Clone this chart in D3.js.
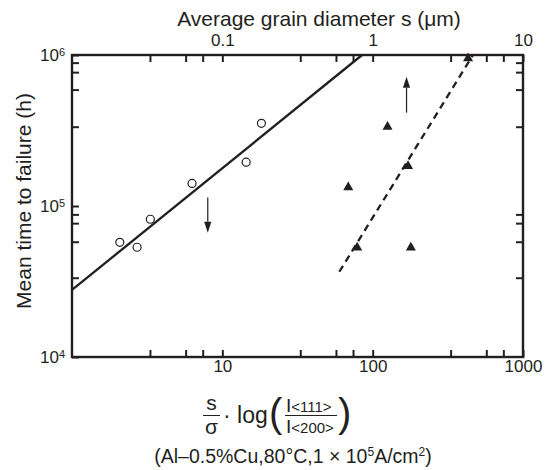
<!DOCTYPE html>
<html>
<head>
<meta charset="utf-8">
<script src="https://cdn.jsdelivr.net/npm/d3@7"></script>
<style>
    body { margin: 0; background: #fff; }
    svg text { font-family: "Liberation Sans", Arial, Helvetica, sans-serif; fill: #231f20; }
    .axis path { display: none; }
    .axis line { stroke: #231f20; stroke-width: 2; }
</style>
</head>
<body>
<div id="chart"></div>
<script>
// open circles
const circleX = [2.08, 2.71, 3.32, 6.29, 14.4, 18.2];
const circleY = [5.75e4, 5.33e4, 8.17e4, 1.41e5, 1.95e5, 3.53e5];

// filled triangles
const triX = [431, 125.6, 172, 68.8, 78.9, 179.5];
const triY = [9.5e5, 3.35e5, 1.84e5, 1.33e5, 5.3e4, 5.3e4];

// fitted lines (end points)
const solidX = [1, 85];
const solidY = [2.78e4, 1e6];
const dashX = [60, 465];
const dashY = [3.67e4, 1e6];

// arrows: x, from, to
const arrowX = [8.0, 168];
const arrowFrom = [1.14e5, 4.15e5];
const arrowTo = [6.66e4, 7.18e5];

// ticks
const xMajor = [10, 100, 1000];
const xMinor = [3.3, 5.7, 7.4, 33, 57, 74, 330, 570, 740];
const topMajor = [0.1, 1, 10];
const topMinor = [0.033, 0.057, 0.074, 0.33, 0.57, 0.74, 3.3, 5.7, 7.4];
const yMajor = [1e4, 1e5, 1e6];
const yExp = ["4", "5", "6"];
const yMinor = [3.35e4, 5.8e4, 7.7e4, 8.8e4, 3.35e5, 5.9e5, 7.7e5, 8.9e5];

const ink = "#231f20";

class GrainVis {
    constructor(parentElement) {
        this.parentElement = parentElement;
        this.initVis();
    }

    initVis() {
        let vis = this;

        vis.margin = {top: 55, right: 31, bottom: 113, left: 72};
        vis.width = 554 - vis.margin.left - vis.margin.right;
        vis.height = 470 - vis.margin.top - vis.margin.bottom;

        vis.root = d3.select("#" + vis.parentElement).append("svg")
            .attr("width", 554)
            .attr("height", 470);

        vis.svg = vis.root.append("g")
            .attr("transform", `translate(${vis.margin.left},${vis.margin.top})`);

        // scales
        vis.x = d3.scaleLog().domain([1, 1000]).range([0, vis.width]);
        vis.xTop = d3.scaleLog().domain([0.01, 10]).range([0, vis.width]);
        vis.y = d3.scaleLog().domain([1e4, 1e6]).range([vis.height, 0]);

        // axes, ticks pointing inward
        vis.svg.append("g")
            .attr("class", "axis x-axis")
            .attr("transform", `translate(0,${vis.height})`)
            .call(d3.axisBottom(vis.x)
                .tickValues(xMinor.concat(xMajor))
                .tickSize(-7)
                .tickPadding(3)
                .tickFormat(d => xMajor.includes(d) ? d3.format("d")(d) : ""))
            .selectAll("text").style("font-size", "17px");

        vis.svg.append("g")
            .attr("class", "axis top-axis")
            .call(d3.axisTop(vis.xTop)
                .tickValues(topMinor.concat(topMajor))
                .tickSize(-7)
                .tickPadding(9)
                .tickFormat(d => topMajor.includes(d) ? String(d) : ""))
            .selectAll("text").style("font-size", "17px");

        let left = vis.svg.append("g")
            .attr("class", "axis y-axis")
            .call(d3.axisLeft(vis.y)
                .tickValues(yMinor.concat(yMajor))
                .tickSize(-7)
                .tickPadding(7)
                .tickFormat(d => yMajor.includes(d) ? "10" : ""));

        left.selectAll("text")
            .style("font-size", "17px")
            .each(function(d) {
                let i = yMajor.indexOf(d);
                if (i < 0) return;
                let t = d3.select(this).text("");
                t.append("tspan").text("10");
                t.append("tspan").attr("dy", "-0.45em").style("font-size", "11px").text(yExp[i]);
            });

        vis.svg.append("g")
            .attr("class", "axis y-axis-right")
            .attr("transform", `translate(${vis.width},0)`)
            .call(d3.axisRight(vis.y)
                .tickValues(yMinor)
                .tickSize(-7)
                .tickFormat(""));

        // frame
        vis.svg.append("rect")
            .attr("width", vis.width)
            .attr("height", vis.height)
            .attr("fill", "none")
            .attr("stroke", ink)
            .attr("stroke-width", 2.4);

        // fitted lines
        vis.svg.append("line")
            .attr("x1", vis.x(solidX[0])).attr("y1", vis.y(solidY[0]))
            .attr("x2", vis.x(solidX[1])).attr("y2", vis.y(solidY[1]))
            .attr("stroke", ink)
            .attr("stroke-width", 2.3);

        vis.svg.append("line")
            .attr("x1", vis.x(dashX[0])).attr("y1", vis.y(dashY[0]))
            .attr("x2", vis.x(dashX[1])).attr("y2", vis.y(dashY[1]))
            .attr("stroke", ink)
            .attr("stroke-width", 2.3)
            .attr("stroke-dasharray", "7,5");

        // circles
        vis.svg.selectAll(".open-pt")
            .data(circleX)
            .enter()
            .append("circle")
            .attr("class", "open-pt")
            .attr("cx", d => vis.x(d))
            .attr("cy", (d, i) => vis.y(circleY[i]))
            .attr("r", 4)
            .attr("fill", "#fff")
            .attr("stroke", ink)
            .attr("stroke-width", 1.2);

        // triangles
        vis.svg.selectAll(".tri-pt")
            .data(triX)
            .enter()
            .append("path")
            .attr("class", "tri-pt")
            .attr("d", d3.symbol().type(d3.symbolTriangle).size(44))
            .attr("transform", (d, i) => `translate(${vis.x(d)},${vis.y(triY[i])})`)
            .attr("fill", ink);

        // arrows
        arrowX.forEach((ax, i) => {
            let px = vis.x(ax);
            let y0 = vis.y(arrowFrom[i]);
            let y1 = vis.y(arrowTo[i]);
            let dir = y1 > y0 ? 1 : -1;
            let headLen = 11;
            vis.svg.append("line")
                .attr("x1", px).attr("y1", y0)
                .attr("x2", px).attr("y2", y1 - dir * headLen)
                .attr("stroke", ink)
                .attr("stroke-width", 1.2);
            vis.svg.append("path")
                .attr("d", `M${px},${y1} L${px - 3.6},${y1 - dir * headLen} L${px + 3.6},${y1 - dir * headLen} Z`)
                .attr("fill", ink);
        });

        // titles
        vis.root.append("text")
            .attr("x", 319).attr("y", 26)
            .attr("text-anchor", "middle")
            .style("font-size", "21px")
            .text("Average grain diameter s (\u03bcm)");

        vis.root.append("text")
            .attr("transform", "translate(31,201)rotate(-90)")
            .attr("text-anchor", "middle")
            .style("font-size", "21px")
            .text("Mean time to failure (h)");

        vis.drawFormula();
    }

    drawFormula() {
        let vis = this;
        let f = vis.root.append("g").attr("class", "formula");

        // s / sigma
        f.append("text").attr("x", 211.5).attr("y", 410).attr("text-anchor", "middle")
            .style("font-size", "21px").text("s");
        f.append("line").attr("x1", 203).attr("x2", 220).attr("y1", 415.5).attr("y2", 415.5)
            .attr("stroke", ink).attr("stroke-width", 1);
        f.append("text").attr("x", 211.5).attr("y", 434).attr("text-anchor", "middle")
            .style("font-size", "21px").text("\u03c3");

        f.append("text").attr("x", 223).attr("y", 423)
            .style("font-size", "23px").text("\u00b7 log");

        f.append("text").attr("x", 269).attr("y", 427)
            .style("font-size", "40px").text("(");
        f.append("text").attr("x", 338).attr("y", 427)
            .style("font-size", "40px").text(")");

        let num = f.append("text").attr("x", 286).attr("y", 411.5);
        num.append("tspan").style("font-size", "19px").text("I");
        num.append("tspan").style("font-size", "15px").text("<111>");
        f.append("line").attr("x1", 285).attr("x2", 337).attr("y1", 415.5).attr("y2", 415.5)
            .attr("stroke", ink).attr("stroke-width", 1);
        let den = f.append("text").attr("x", 286).attr("y", 433);
        den.append("tspan").style("font-size", "19px").text("I");
        den.append("tspan").style("font-size", "15px").text("<200>");

        // conditions
        let c = f.append("text").attr("x", 293).attr("y", 463)
            .attr("text-anchor", "middle").style("font-size", "19.5px");
        c.append("tspan").text("(Al\u20130.5%Cu,80\u00b0C,1 \u00d7 10");
        c.append("tspan").attr("dy", "-7").style("font-size", "12px").text("5");
        c.append("tspan").attr("dy", "7").text("A/cm");
        c.append("tspan").attr("dy", "-7").style("font-size", "12px").text("2");
        c.append("tspan").attr("dy", "7").text(")");
    }
}

new GrainVis("chart");
</script>
</body>
</html>
